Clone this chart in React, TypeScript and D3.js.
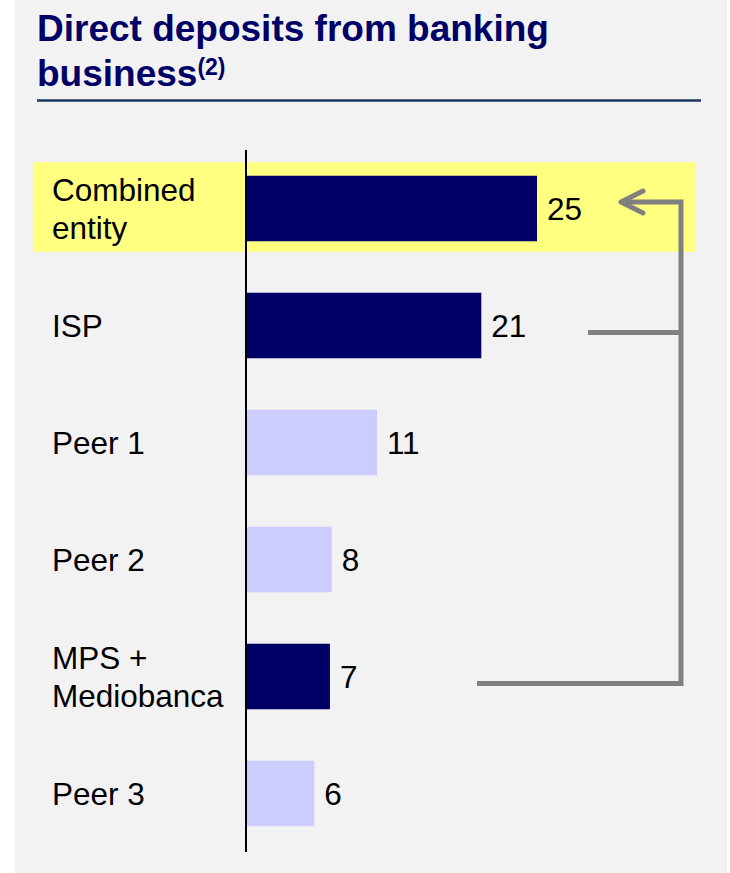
import React from "react";
import * as d3 from "d3";

// chart data
const categories = ["Combined entity", "ISP", "Peer 1", "Peer 2", "MPS + Mediobanca", "Peer 3"];
const categoryLines = [["Combined", "entity"], ["ISP"], ["Peer 1"], ["Peer 2"], ["MPS +", "Mediobanca"], ["Peer 3"]];
const deposits = [25, 20.2, 11.2, 7.3, 7.15, 5.8]; // bar lengths as drawn
const depositLabels = ["25", "21", "11", "8", "7", "6"]; // values as printed
const isOwnGroup = [true, true, false, false, true, false];
const highlighted = "Combined entity";

const W = 730;
const H = 873;
const NAVY = "#000066";
const PEER = "#CCCCFF";
const GREY = "#808080";
const FONT = "'Liberation Sans', Arial, sans-serif";

const App = () => {
  const y = d3
    .scaleBand<string>()
    .domain(categories)
    .range([150, 852])
    .paddingInner(0.44)
    .paddingOuter(0.22);

  const x = d3.scaleLinear().domain([0, 25]).range([247, 537]);

  const mid = (c: string) => (y(c) ?? 0) + y.bandwidth() / 2;
  const lineH = 38.5;

  // connector (ISP + MPS -> Combined)
  const connX = 681;
  const topY = mid(categories[0]) - 6.5;
  const ispY = mid(categories[1]) + 7;
  const mpsY = mid(categories[4]) + 7;
  const tipX = 621;

  return (
    <div style={{ position: "absolute", left: 0, top: 0 }}>
      <svg width={W} height={H} style={{ display: "block", fontFamily: FONT }}>
        <rect x={0} y={0} width={W} height={H} fill="#ffffff" />
        <rect x={15} y={0} width={712} height={H} fill="#F2F2F2" />

        {/* title */}
        <text x={37} y={40.7} fill={NAVY} fontSize={37} fontWeight="bold">
          Direct deposits from banking
        </text>
        <text x={37} y={85.7} fill={NAVY} fontSize={37} fontWeight="bold">
          business
          <tspan fontSize={23} dy={-11}>(2)</tspan>
        </text>
        <line x1={37} x2={701} y1={100.5} y2={100.5} stroke="#17375E" strokeWidth={2.6} />

        {/* highlight band */}
        <rect
          x={34}
          y={(y(highlighted) ?? 0) - 13.5}
          width={661}
          height={y.bandwidth() + 24}
          fill="#FFFF80"
        />

        {/* bars */}
        {categories.map((c, i) => (
          <rect
            key={c}
            x={x(0)}
            y={y(c)}
            width={x(deposits[i]) - x(0)}
            height={y.bandwidth()}
            fill={isOwnGroup[i] ? NAVY : PEER}
          />
        ))}

        {/* axis line */}
        <line x1={246} x2={246} y1={150} y2={852} stroke="#000" strokeWidth={2} />

        {/* value labels */}
        {categories.map((c, i) => (
          <text key={c} x={x(deposits[i]) + 10} y={mid(c) + 11.5} fontSize={31.5} fill="#000">
            {depositLabels[i]}
          </text>
        ))}

        {/* category labels */}
        {categories.map((c, i) => {
          const lines = categoryLines[i];
          const first = mid(c) + 11.5 - ((lines.length - 1) * lineH) / 2;
          return (
            <text key={c} x={52} fontSize={31.5} fill="#000">
              {lines.map((l, j) => (
                <tspan key={j} x={52} y={first + j * lineH}>
                  {l}
                </tspan>
              ))}
            </text>
          );
        })}

        {/* connector */}
        <g fill="none" stroke={GREY} strokeWidth={5}>
          <polyline points={`${tipX + 2},${topY} ${connX},${topY} ${connX},${mpsY} ${477},${mpsY}`} />
          <line x1={588} x2={connX} y1={ispY} y2={ispY} />
          <polyline
            points={`${tipX + 22},${topY - 11} ${tipX},${topY} ${tipX + 22},${topY + 11}`}
            strokeLinecap="round"
            strokeLinejoin="round"
          />
        </g>
      </svg>
    </div>
  );
};

export default App;
